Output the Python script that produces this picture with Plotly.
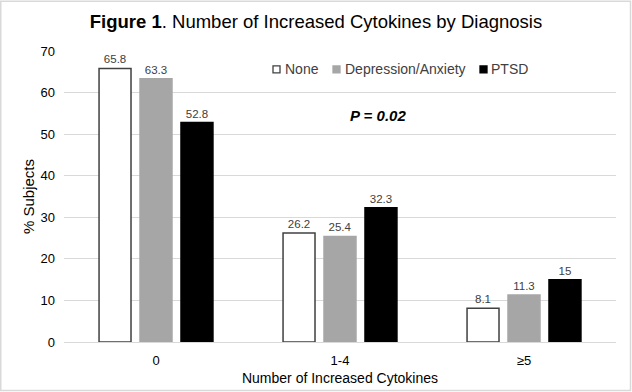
import plotly.graph_objects as go

categories = ["0", "1-4", "≥5"]
series_names = ["None", "Depression/Anxiety", "PTSD"]
none_vals = [65.8, 26.2, 8.1]
dep_vals = [63.3, 25.4, 11.3]
ptsd_vals = [52.8, 32.3, 15]
y_ticks = [0, 10, 20, 30, 40, 50, 60, 70]

fills = ["#ffffff", "#a6a6a6", "#000000"]
lines = ["#404040", "#a6a6a6", "#000000"]

W, H = 632, 392
ml, mr, mt, mb = 64, 16, 50.5, 50
pw = W - ml - mr
ph = H - mt - mb


def px(x):
    return (x - ml) / pw


def py(y):
    return (H - mb - y) / ph


fig = go.Figure()
for name, vals, fc, lc in zip(series_names, [none_vals, dep_vals, ptsd_vals], fills, lines):
    fig.add_trace(go.Bar(
        x=categories, y=vals, name=name, showlegend=False,
        marker=dict(color=fc, line=dict(color=lc, width=1.5)),
        text=[f"{v:g}" for v in vals], textposition="outside",
        textfont=dict(size=11.5, color="#404040"),
        outsidetextfont=dict(size=11.5, color="#404040"), cliponaxis=False,
        hoverinfo="skip",
    ))

# figure border
fig.add_shape(type="rect", xref="paper", yref="paper",
              x0=px(0.75), x1=px(630.5), y0=py(390.5), y1=py(0.75),
              line=dict(color="#d9d9d9", width=1.5), layer="below")

# custom legend
leg_box_x = [273, 333, 480]
leg_text_x = [283, 343, 489]
leg_y = 69
for name, bx, tx, fc, lc in zip(series_names, leg_box_x, leg_text_x, fills, lines):
    fig.add_shape(type="rect", xref="paper", yref="paper",
                  x0=px(bx), x1=px(bx + 7), y0=py(leg_y + 3.5), y1=py(leg_y - 3.5),
                  fillcolor=fc, line=dict(color=lc, width=1.3))
    fig.add_annotation(text=name, xref="paper", yref="paper", x=px(tx), y=py(leg_y),
                       xanchor="left", yanchor="middle", showarrow=False,
                       font=dict(size=14, color="#404040"))

fig.add_annotation(text="<b><i>P = 0.02</i></b>", xref="paper", yref="paper",
                   x=px(377.5), y=py(115), showarrow=False,
                   xanchor="center", yanchor="middle",
                   font=dict(size=15, color="#000000"))

fig.update_layout(
    width=W, height=H,
    margin=dict(l=ml, r=mr, t=mt, b=mb),
    paper_bgcolor="white", plot_bgcolor="white",
    hovermode=False,
    font=dict(family="Liberation Sans, Arial, sans-serif", color="#262626"),
    title=dict(text="<b>Figure 1</b>. Number of Increased Cytokines by Diagnosis",
               x=316 / W, xanchor="center", y=1 - 22 / H, yanchor="middle",
               font=dict(size=18.5, color="#000000")),
    barmode="group", bargap=0.332, bargroupgap=0.22,
    showlegend=False,
    xaxis=dict(title=dict(text="Number of Increased Cytokines", font=dict(size=14, color="#000000"), standoff=6),
               tickfont=dict(size=13, color="#000000"), showline=True, automargin=False,
               linecolor="#d9d9d9", linewidth=1, ticks="", ticklabelstandoff=6),
    yaxis=dict(title=dict(text="% Subjects", font=dict(size=15, color="#000000"), standoff=2),
               range=[0, 70], tickvals=y_ticks, tickfont=dict(size=13, color="#000000"),
               showgrid=True, gridcolor="#d9d9d9", gridwidth=1, zeroline=False, automargin=False,
               ticks="", ticklen=0, ticklabelstandoff=8),
)

fig.write_html("out.html", config={"displayModeBar": False, "staticPlot": True},
               post_script="document.body.style.margin='0';")
